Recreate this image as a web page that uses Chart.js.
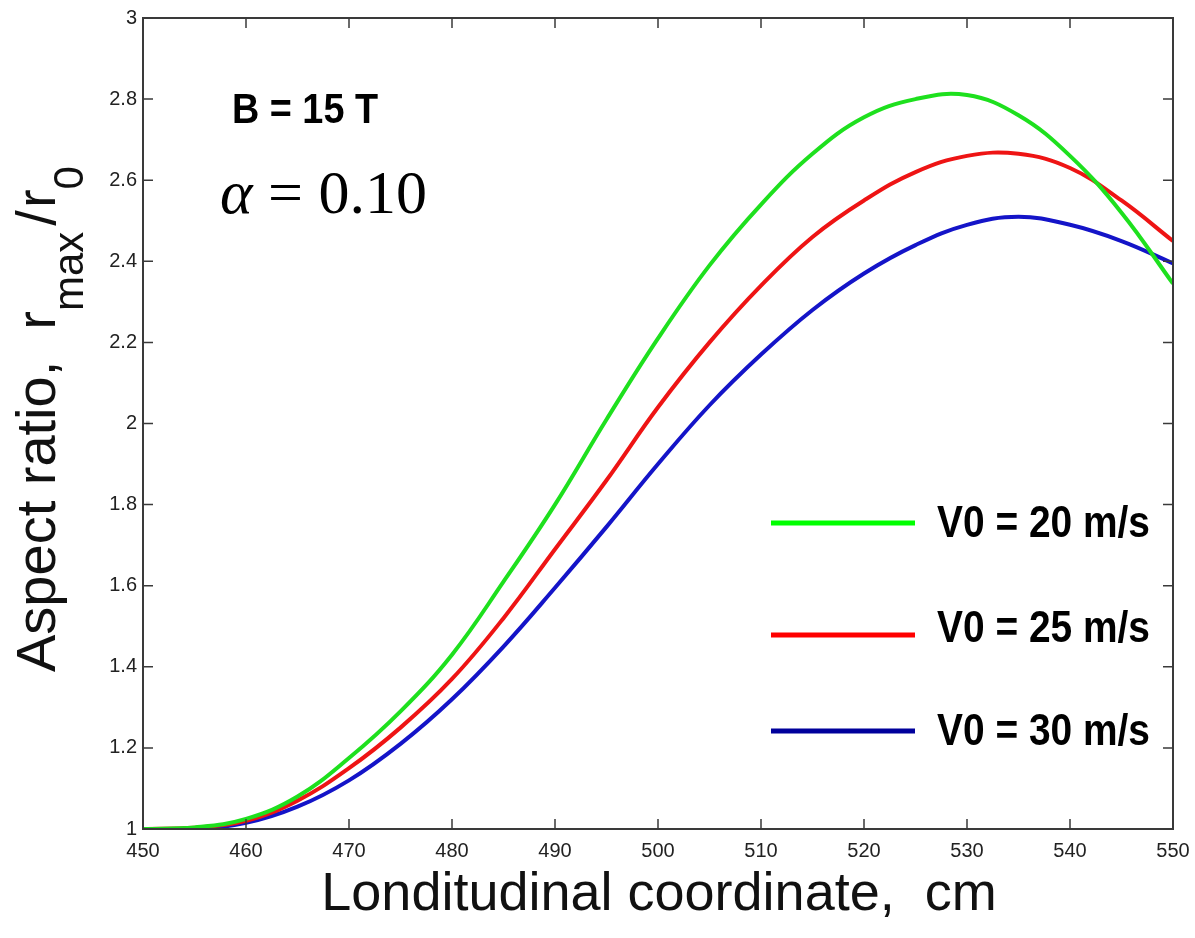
<!DOCTYPE html>
<html>
<head>
<meta charset="utf-8">
<script src="https://cdn.jsdelivr.net/npm/chart.js@4.4.1/dist/chart.umd.min.js"></script>
<style>
  html, body { margin: 0; padding: 0; background: #fff; }
  #wrap { width: 1195px; height: 938px; }
</style>
</head>
<body>
<div id="wrap"><canvas id="aspectChart" width="1195" height="938"></canvas></div>
<script>
// longitudinal coordinate, cm
const xCoords = [450, 455, 460, 465, 470, 475, 480, 485, 490, 495, 500, 505, 510, 515, 520, 525, 530, 535, 540, 545, 550];

// aspect ratio r_max / r_0
const v20 = [1.0, 1.004, 1.025, 1.08, 1.175, 1.29, 1.43, 1.61, 1.80, 2.01, 2.21, 2.39, 2.54, 2.665, 2.755, 2.80, 2.81, 2.76, 2.66, 2.52, 2.345];
const v25 = [1.0, 1.003, 1.02, 1.07, 1.15, 1.25, 1.37, 1.52, 1.69, 1.86, 2.04, 2.20, 2.34, 2.46, 2.55, 2.62, 2.66, 2.665, 2.63, 2.55, 2.45];
const v30 = [1.0, 1.0, 1.015, 1.055, 1.12, 1.21, 1.32, 1.45, 1.595, 1.745, 1.90, 2.045, 2.17, 2.28, 2.37, 2.44, 2.49, 2.51, 2.49, 2.45, 2.395];

const seriesLabels = ["V0 = 20 m/s", "V0 = 25 m/s", "V0 = 30 m/s"];
const curveColors = ["#1ee01e", "#ee1414", "#1414c8"];
const legendColors = ["#00ff00", "#ff0000", "#00009c"];

function toPoints(ys) {
    return xCoords.map(function (x, i) { return { x: x, y: ys[i] }; });
}

const sans = "'Liberation Sans', Arial, Helvetica, sans-serif";
const serif = "'Liberation Serif', 'Times New Roman', serif";

// bold text squeezed to a given width (the figure uses a condensed face)
function narrowText(ctx, txt, x, y, size, width) {
    ctx.save();
    ctx.font = "bold " + size + "px " + sans;
    const w = ctx.measureText(txt).width;
    ctx.translate(x, y);
    ctx.scale(width / w, 1);
    ctx.textAlign = "left";
    ctx.fillText(txt, 0, 0);
    ctx.restore();
}

// box, inward ticks, annotations, legend and axis titles (MATLAB look)
const matlabFrame = {
    id: "matlabFrame",
    afterDraw: function (chart) {
        const ctx = chart.ctx;
        const a = chart.chartArea;
        const xs = chart.scales.x;
        const ys = chart.scales.y;

        ctx.save();
        ctx.strokeStyle = "#3a3a3a";
        ctx.lineWidth = 2;
        ctx.strokeRect(a.left, a.top, a.right - a.left, a.bottom - a.top);

        ctx.lineWidth = 1.5;
        ctx.beginPath();
        xs.ticks.forEach(function (t) {
            const px = xs.getPixelForValue(t.value);
            ctx.moveTo(px, a.bottom); ctx.lineTo(px, a.bottom - 10);
            ctx.moveTo(px, a.top); ctx.lineTo(px, a.top + 10);
        });
        ys.ticks.forEach(function (t) {
            const py = ys.getPixelForValue(t.value);
            ctx.moveTo(a.left, py); ctx.lineTo(a.left + 10, py);
            ctx.moveTo(a.right, py); ctx.lineTo(a.right - 10, py);
        });
        ctx.stroke();

        // annotations
        ctx.fillStyle = "#000";
        ctx.textBaseline = "alphabetic";
        narrowText(ctx, "B = 15 T", 232, 123, 43, 146);

        ctx.textAlign = "left";
        ctx.font = "italic 62px " + serif;
        ctx.fillText("\u03B1", 220, 213);
        ctx.font = "62px " + serif;
        ctx.fillText("= 0.10", 268, 213);

        // legend
        const legendY = [523, 635, 731];
        const textY = [537, 642, 745];
        seriesLabels.forEach(function (lbl, i) {
            ctx.strokeStyle = legendColors[i];
            ctx.lineWidth = 5;
            ctx.beginPath();
            ctx.moveTo(771, legendY[i]);
            ctx.lineTo(915, legendY[i]);
            ctx.stroke();
            narrowText(ctx, lbl, 937, textY[i], 45, 213);
        });

        // x title
        ctx.fillStyle = "#111";
        ctx.textAlign = "center";
        ctx.font = "54px " + sans;
        ctx.fillText("Londitudinal coordinate,  cm", 659, 910);

        // y title with subscripts
        ctx.translate(55, 672);
        ctx.rotate(-Math.PI / 2);
        ctx.textAlign = "left";
        let pos = 0;
        const parts = [
            ["Aspect ratio,  r", 56, 0, 0],
            ["max", 42, 28, 0],
            ["/", 56, 0, 6],
            ["r", 56, 0, 2],
            ["0", 42, 28, 0]
        ];
        parts.forEach(function (p) {
            pos += p[3];
            ctx.font = p[1] + "px " + sans;
            ctx.fillText(p[0], pos, p[2]);
            pos += ctx.measureText(p[0]).width;
        });
        ctx.restore();
    }
};

const ctx = document.getElementById("aspectChart").getContext("2d");

new Chart(ctx, {
    type: "line",
    data: {
        datasets: [v20, v25, v30].map(function (ys, i) {
            return {
                label: seriesLabels[i],
                data: toPoints(ys),
                borderColor: curveColors[i],
                borderWidth: 4,
                pointRadius: 0,
                tension: 0.4,
                fill: false
            };
        })
    },
    options: {
        responsive: false,
        animation: false,
        layout: { padding: { top: 16, right: 22, left: 0, bottom: 0 } },
        plugins: {
            legend: { display: false },
            tooltip: { enabled: false }
        },
        scales: {
            x: {
                type: "linear",
                min: 450,
                max: 550,
                grid: { display: false, drawTicks: false, tickLength: 0 },
                border: { display: false },
                ticks: {
                    stepSize: 10,
                    padding: 10,
                    color: "#222",
                    font: { family: sans, size: 20 },
                    maxRotation: 0
                },
                afterFit: function (scale) {
                    scale.height = 109;
                    scale.paddingRight = 0;
                }
            },
            y: {
                min: 1,
                max: 3,
                grid: { display: false, drawTicks: false, tickLength: 0 },
                border: { display: false },
                ticks: {
                    stepSize: 0.2,
                    padding: 6,
                    color: "#222",
                    font: { family: sans, size: 20 },
                    callback: function (v) { return String(parseFloat(v.toFixed(1))); }
                },
                afterFit: function (scale) { scale.width = 143; }
            }
        }
    },
    plugins: [matlabFrame]
});
</script>
</body>
</html>
